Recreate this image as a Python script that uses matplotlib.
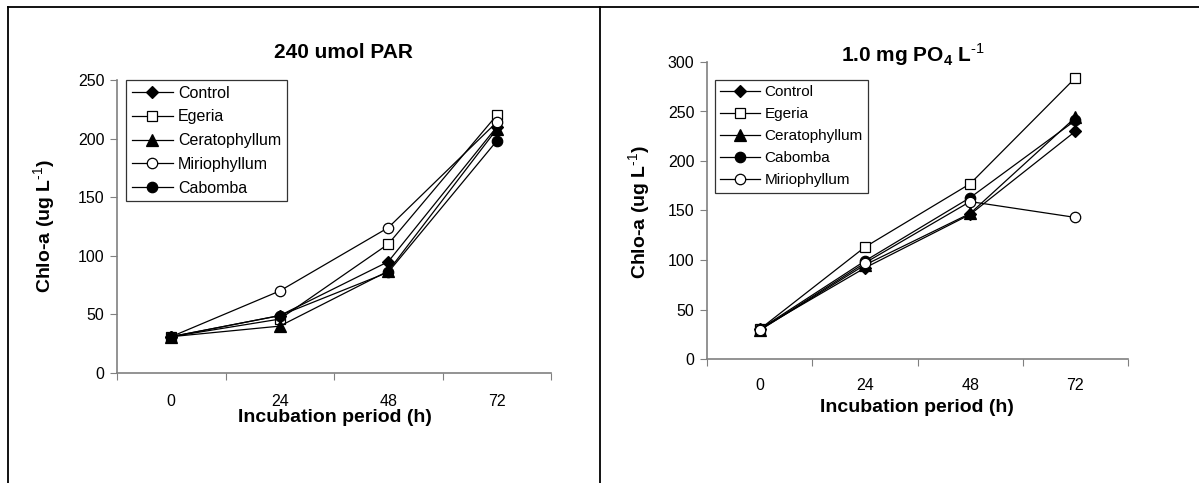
import matplotlib.pyplot as plt
from matplotlib.lines import Line2D

plt.rcParams['font.family'] = ['Liberation Sans', 'DejaVu Sans']
plt.rcParams['mathtext.fontset'] = 'custom'
plt.rcParams['mathtext.rm'] = 'Liberation Sans'
plt.rcParams['mathtext.bf'] = 'Liberation Sans:bold'

hours = ['0', '24', '48', '72']

# left panel: 240 umol PAR
par_control = [31, 49, 95, 210]
par_egeria = [31, 46, 110, 220]
par_cerato = [31, 40, 87, 208]
par_mirio = [31, 70, 124, 214]
par_cabomba = [31, 49, 86, 198]

# right panel: 1.0 mg PO4 L-1
po4_control = [30, 92, 146, 230]
po4_egeria = [30, 113, 177, 284]
po4_cerato = [29, 95, 147, 244]
po4_cabomba = [30, 99, 163, 241]
po4_mirio = [29, 97, 159, 143]

styles = {
    'Control': dict(marker='D', mfc='black', ms=6.5),
    'Egeria': dict(marker='s', mfc='white', ms=7.5),
    'Ceratophyllum': dict(marker='^', mfc='black', ms=8),
    'Miriophyllum': dict(marker='o', mfc='white', ms=7.5),
    'Cabomba': dict(marker='o', mfc='black', ms=7.5),
}

W, H = 1199, 483
fig = plt.figure(figsize=(W / 100, H / 100), dpi=100)


def px_axes(x0, y0, x1, y1):
    return fig.add_axes([x0 / W, 1 - y1 / H, (x1 - x0) / W, (y1 - y0) / H])


def setup(ax, series, ymax, ystep, pad, leg_xy, leg_fs, leg_sp,
          title, title_xy, xlab_xy, ylab_xy):
    x = list(range(len(hours)))
    for name, vals in series:
        ax.plot(x, vals, color='black', lw=0.9, mec='black', mew=0.9,
                label=name, **styles[name])
    ax.set_xlim(-0.5, len(hours) - 0.5)
    ax.set_ylim(0, ymax)
    ax.set_yticks(range(0, ymax + 1, ystep))
    ax.set_xticks([i - 0.5 for i in range(len(hours) + 1)])
    ax.set_xticklabels([])
    ax.set_xticks(x, minor=True)
    ax.set_xticklabels(hours, minor=True)
    ax.tick_params(axis='x', which='minor', length=0, pad=pad, labelsize=11.5)
    ax.tick_params(axis='x', which='major', direction='out', length=5,
                   color='#808080')
    ax.tick_params(axis='y', direction='out', length=5, color='#808080',
                   labelsize=11.5, pad=4)
    for s in ['top', 'right']:
        ax.spines[s].set_visible(False)
    for s in ['left', 'bottom']:
        ax.spines[s].set_color('#808080')
        ax.spines[s].set_linewidth(1.2)
    leg = ax.legend(loc='upper left', bbox_to_anchor=leg_xy,
                    fontsize=leg_fs, frameon=True, fancybox=False,
                    borderpad=0.35, labelspacing=leg_sp, handlelength=2.6,
                    handletextpad=0.3, borderaxespad=0)
    leg.get_frame().set_edgecolor('black')
    leg.get_frame().set_linewidth(0.9)
    fig.text(title_xy[0] / W, 1 - title_xy[1] / H, title, fontsize=15,
             fontweight='bold', ha='center', va='center')
    fig.text(xlab_xy[0] / W, 1 - xlab_xy[1] / H, 'Incubation period (h)',
             fontsize=14, fontweight='bold', ha='center', va='center')
    fig.text(ylab_xy[0] / W, 1 - ylab_xy[1] / H,
             'Chlo-a (ug L$^{\\mathbf{\\text{-1}}}$)',
             fontsize=14, fontweight='bold', ha='center', va='center',
             rotation=90)


ax1 = px_axes(117, 80, 551, 373)
setup(ax1,
      [('Control', par_control), ('Egeria', par_egeria),
       ('Ceratophyllum', par_cerato), ('Miriophyllum', par_mirio),
       ('Cabomba', par_cabomba)],
      250, 50, 15, (0.021, 1.0), 11.5, 0.55,
      '240 umol PAR', (343, 53), (335, 418), (45, 226))

ax2 = px_axes(707, 62, 1128, 359)
setup(ax2,
      [('Control', po4_control), ('Egeria', po4_egeria),
       ('Ceratophyllum', po4_cerato), ('Cabomba', po4_cabomba),
       ('Miriophyllum', po4_mirio)],
      300, 50, 14, (0.019, 0.939), 11, 0.52,
      '1.0 mg PO$_\\mathbf{4}$ L$^{\\mathbf{\\text{-1}}}$', (913, 55),
      (917, 408), (640, 212))

# table-like border around the two panels
for xs, ys in [([7.5, 1199], [6.5, 6.5]), ([7.5, 7.5], [6.5, 483]),
               ([600, 600], [6.5, 483])]:
    fig.add_artist(Line2D([v / W for v in xs], [1 - v / H for v in ys],
                          color='black', lw=1.3))

fig.savefig('out.png', dpi=100)
